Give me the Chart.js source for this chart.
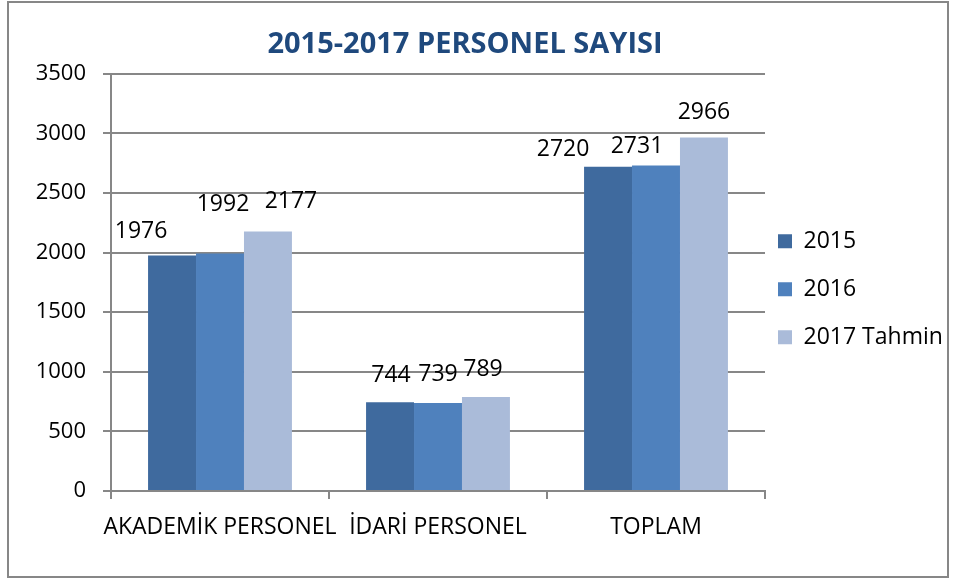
<!DOCTYPE html>
<html>
<head>
<meta charset="utf-8">
<title>2015-2017 Personel Sayısı</title>
<script src="https://cdn.jsdelivr.net/npm/chart.js@4.4.1/dist/chart.umd.min.js"></script>
<style>
  html, body { margin: 0; padding: 0; background: #fff; }
  canvas { display: block; }
</style>
</head>
<body>
<canvas id="personelChart" width="956" height="579"></canvas>
<script>
// chart data
const categories = ['AKADEMİK PERSONEL', 'İDARİ PERSONEL', 'TOPLAM'];
const seriesNames = ['2015', '2016', '2017 Tahmin'];
const values2015 = [1976, 744, 2720];
const values2016 = [1992, 739, 2731];
const values2017 = [2177, 789, 2966];
const yTicks = [0, 500, 1000, 1500, 2000, 2500, 3000, 3500];

const FONT = "'Open Sans', 'Liberation Sans', sans-serif";
const GRAY = '#878787';
const LEGEND_PAD = 25;

// where Excel had placed each value label, relative to the top centre of its bar
const labelNudge = [
  [[-31, -24], [1, -27], [-45, -17]],   // 2015
  [[3, -49], [0, -28], [-19, -19]],     // 2016
  [[23, -30], [-3, -27], [0, -25]]      // 2017
];

// frame around the whole chart + white background
const framePlugin = {
  id: 'frame',
  beforeDraw(chart) {
    const ctx = chart.ctx;
    ctx.save();
    ctx.fillStyle = '#fff';
    ctx.fillRect(0, 0, chart.width, chart.height);
    ctx.strokeStyle = GRAY;
    ctx.lineWidth = 2;
    ctx.strokeRect(8, 2, 940, 575);
    ctx.restore();
  }
};

// value labels above the bars
const valueLabels = {
  id: 'valueLabels',
  afterDatasetsDraw(chart) {
    const ctx = chart.ctx;
    ctx.save();
    ctx.font = '23px ' + FONT;
    ctx.fillStyle = '#000';
    ctx.textAlign = 'center';
    ctx.textBaseline = 'middle';
    chart.data.datasets.forEach((ds, i) => {
      chart.getDatasetMeta(i).data.forEach((bar, j) => {
        const n = labelNudge[i][j];
        ctx.fillText(ds.data[j], bar.x + n[0], bar.y + n[1]);
      });
    });
    ctx.restore();
  }
};

// put the legend column where the original has it
const legendSpot = {
  id: 'legendSpot',
  afterLayout(chart) {
    const lg = chart.legend;
    if (!lg) return;
    lg.left = chart.chartArea.right + 13 - LEGEND_PAD;
    lg.top = chart.chartArea.top + 130;
    lg.bottom = lg.top + 171;
  }
};

const ctx = document.getElementById('personelChart').getContext('2d');
const myChart = new Chart(ctx, {
  type: 'bar',
  data: {
    labels: categories,
    datasets: [
      { label: seriesNames[0], data: values2015, backgroundColor: '#3F6A9E' },
      { label: seriesNames[1], data: values2016, backgroundColor: '#4F81BD' },
      { label: seriesNames[2], data: values2017, backgroundColor: '#AABBD9' }
    ]
  },
  options: {
    responsive: false,
    animation: false,
    layout: { padding: { left: -18, right: 8, top: 10, bottom: 10 } },
    datasets: {
      bar: { barPercentage: 1, categoryPercentage: 0.66 }
    },
    plugins: {
      title: {
        display: true,
        text: '2015-2017 PERSONEL SAYISI',
        color: '#1F497D',
        font: { family: FONT, size: 29, weight: 'bold' },
        padding: { top: 17, bottom: 12 }
      },
      legend: {
        position: 'right',
        align: 'center',
        maxWidth: 183,
        labels: {
          boxWidth: 14,
          boxHeight: 14,
          padding: LEGEND_PAD,
          color: '#000',
          font: { family: FONT, size: 23 }
        }
      },
      tooltip: { enabled: false }
    },
    scales: {
      x: {
        grid: { drawOnChartArea: false, color: GRAY, lineWidth: 2, tickLength: 8 },
        border: { color: GRAY, width: 2 },
        ticks: {
          color: '#000',
          font: { family: FONT, size: 23 },
          padding: 15,
          maxRotation: 0,
          autoSkip: false
        },
        afterFit(scale) { scale.height = 78; }
      },
      y: {
        min: 0,
        max: yTicks[yTicks.length - 1],
        afterBuildTicks(scale) { scale.ticks = yTicks.map(v => ({ value: v })); },
        grid: { color: GRAY, lineWidth: 2, tickLength: 8 },
        border: { color: GRAY, width: 2 },
        ticks: {
          color: '#000',
          font: { family: FONT, size: 22 },
          padding: 17,
          callback: v => String(v)
        },
        afterFit(scale) { scale.width = 129; }
      }
    }
  },
  plugins: [framePlugin, valueLabels, legendSpot]
});
</script>
</body>
</html>
